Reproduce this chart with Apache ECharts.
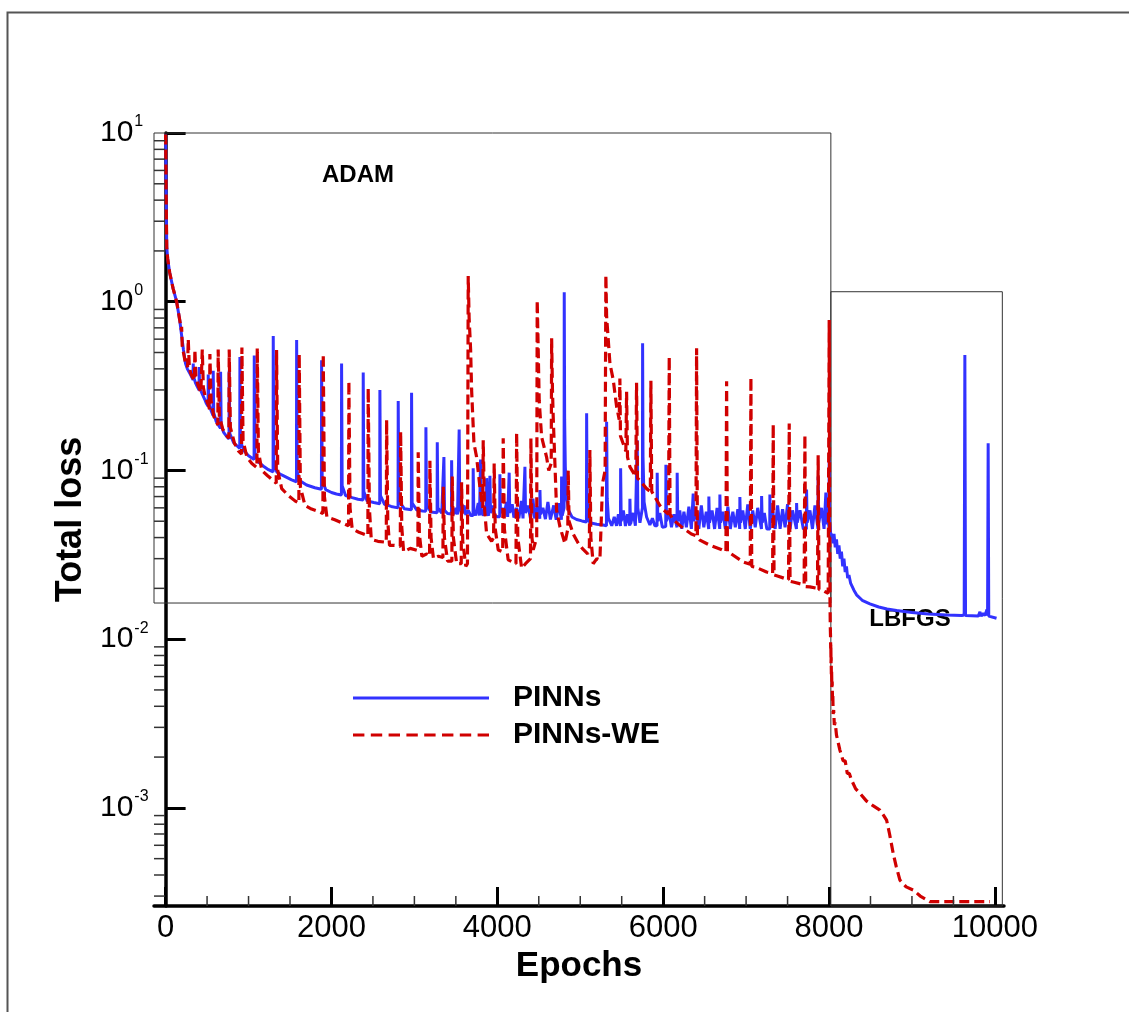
<!DOCTYPE html>
<html>
<head>
<meta charset="utf-8">
<script src="https://cdn.jsdelivr.net/npm/echarts@6/dist/echarts.min.js"></script>
<style>
html,body{margin:0;padding:0;background:#fff;}
#chart{width:1129px;height:1012px;}
</style>
</head>
<body>
<div id="chart"></div>
<script>
// ---------------- data ----------------
const seriesNames = ['PINNs', 'PINNs-WE'];

// PINNs (blue, solid): [epoch, total loss]
const pinns = [
[0,9.8],[4,6.0],[9,3.2],[14,2.1],[25,1.8],[50,1.48],[90,1.2],[133,1.0],[170,0.78],[195,0.62],[215,0.52],[240,0.43],
[262,0.40],[285,0.39],[300,0.37],[318,0.355],[331,0.345],[333,0.43],[338,0.36],[360,0.33],[380,0.315],[403,0.30],[405,0.41],[410,0.31],
[440,0.285],[470,0.265],[490,0.25],[512,0.24],[514,0.37],[520,0.25],[550,0.225],[572,0.212],[574,0.39],[580,0.22],[610,0.195],[640,0.185],
[661,0.178],[663,0.385],[670,0.185],[700,0.168],[740,0.158],[765,0.154],[767,0.39],[775,0.165],[820,0.146],[860,0.14],[894,0.135],[896,0.47],
[903,0.148],[950,0.13],[1000,0.122],[1067,0.116],[1069,0.48],[1076,0.128],[1120,0.112],[1180,0.106],[1240,0.101],[1296,0.098],[1298,0.626],
[1305,0.112],[1340,0.098],[1400,0.094],[1460,0.091],[1520,0.088],[1578,0.0857],[1580,0.593],[1587,0.098],[1620,0.087],[1700,0.082],[1800,0.079],
[1879,0.0773],[1881,0.45],[1888,0.088],[1930,0.077],[2000,0.074],[2060,0.0725],[2120,0.0715],[2122,0.43],[2129,0.081],[2170,0.071],[2250,0.069],
[2320,0.0675],[2381,0.0668],[2383,0.38],[2390,0.075],[2430,0.066],[2510,0.0645],[2582,0.0635],[2584,0.30],[2591,0.071],[2640,0.063],[2720,0.0612],
[2803,0.060],[2805,0.258],[2812,0.066],[2880,0.0592],[2964,0.0585],[2966,0.289],[2973,0.064],[3030,0.0582],[3100,0.0575],[3137,0.0572],[3139,0.18],
[3146,0.062],[3200,0.0567],[3274,0.0562],[3276,0.147],[3283,0.06],[3330,0.0558],[3354,0.0556],[3356,0.12],[3363,0.058],[3400,0.0555],[3447,0.0552],
[3449,0.115],[3456,0.058],[3480,0.055],[3500,0.060],[3520,0.0548],[3538,0.0548],[3540,0.175],[3547,0.060],[3570,0.055],[3600,0.062],[3620,0.0545],
[3650,0.058],[3680,0.054],[3707,0.054],[3709,0.103],[3716,0.058],[3740,0.054],[3770,0.064],[3785,0.054],[3796,0.055],[3798,0.116],[3805,0.057],
[3830,0.054],[3850,0.062],[3869,0.054],[3871,0.09],[3878,0.056],[3895,0.054],[3909,0.054],[3911,0.093],[3918,0.056],[3950,0.062],[3970,0.054],
[4000,0.0532],[4029,0.0532],[4031,0.095],[4038,0.056],[4060,0.060],[4080,0.053],[4110,0.065],[4125,0.053],[4141,0.053],[4143,0.097],[4150,0.056],
[4180,0.063],[4200,0.0525],[4230,0.060],[4260,0.052],[4290,0.066],[4310,0.052],[4331,0.052],[4333,0.105],[4340,0.056],[4370,0.062],[4400,0.052],
[4430,0.068],[4450,0.052],[4480,0.061],[4512,0.0518],[4514,0.0765],[4521,0.055],[4550,0.060],[4580,0.0515],[4610,0.065],[4640,0.0512],[4680,0.062],
[4710,0.051],[4740,0.064],[4773,0.051],[4775,0.092],[4782,0.054],[4800,0.053],[4805,0.06],[4807,1.137],[4812,0.2],[4820,0.105],[4835,0.07],[4860,0.058],
[4900,0.053],[4956,0.0512],[5020,0.0502],[5075,0.0495],[5077,0.218],[5083,0.07],[5095,0.052],[5116,0.049],[5200,0.048],[5277,0.0475],[5316,0.047],
[5318,0.194],[5325,0.068],[5340,0.052],[5380,0.047],[5410,0.053],[5438,0.047],[5460,0.055],[5485,0.0468],[5487,0.103],[5494,0.05],[5520,0.058],
[5545,0.0468],[5570,0.055],[5597,0.047],[5599,0.068],[5606,0.048],[5640,0.056],[5665,0.047],[5685,0.048],[5687,0.151],[5694,0.06],[5720,0.049],
[5750,0.06],[5752,0.567],[5757,0.12],[5770,0.065],[5800,0.053],[5840,0.0475],[5870,0.052],[5900,0.047],[5926,0.047],[5928,0.097],[5935,0.05],
[5960,0.056],[5990,0.046],[6031,0.0465],[6033,0.108],[6040,0.05],[6070,0.057],[6100,0.046],[6130,0.055],[6167,0.046],[6169,0.097],[6176,0.05],
[6200,0.058],[6225,0.045],[6250,0.057],[6280,0.046],[6310,0.061],[6340,0.045],[6360,0.046],[6362,0.073],[6369,0.05],[6400,0.058],[6430,0.045],
[6460,0.062],[6490,0.046],[6520,0.057],[6549,0.045],[6551,0.07],[6558,0.049],[6590,0.058],[6620,0.045],[6650,0.06],[6682,0.045],[6684,0.072],
[6691,0.049],[6720,0.057],[6750,0.045],[6780,0.061],[6810,0.045],[6840,0.057],[6870,0.046],[6900,0.059],[6923,0.045],[6925,0.0695],[6932,0.049],
[6960,0.058],[6990,0.045],[7020,0.063],[7050,0.045],[7080,0.058],[7110,0.046],[7140,0.06],[7185,0.045],[7187,0.0705],[7194,0.049],[7220,0.056],
[7250,0.045],[7285,0.045],[7287,0.072],[7294,0.049],[7320,0.058],[7350,0.045],[7380,0.062],[7410,0.045],[7440,0.059],[7470,0.046],[7500,0.063],
[7530,0.045],[7560,0.058],[7607,0.045],[7609,0.064],[7616,0.049],[7650,0.058],[7690,0.045],[7727,0.045],[7729,0.077],[7736,0.049],[7770,0.058],
[7800,0.045],[7830,0.062],[7867,0.045],[7869,0.092],[7876,0.049],[7910,0.06],[7940,0.045],[7960,0.045],[7962,0.074],[7968,0.048],[7985,0.052],
[8000,0.046],[8002,0.114],[8006,0.05],[8020,0.0424],
[8040,0.041],[8050,0.037],[8060,0.042],[8075,0.035],[8090,0.039],[8105,0.032],[8120,0.036],[8135,0.030],[8150,0.033],[8165,0.027],[8180,0.030],
[8195,0.025],[8210,0.027],[8225,0.023],[8240,0.024],[8260,0.0215],[8280,0.0212],[8300,0.0195],[8332,0.0183],[8400,0.017],[8493,0.0162],[8600,0.0155],
[8700,0.0151],[8815,0.0148],[9000,0.0144],[9200,0.0141],[9418,0.0139],[9600,0.0138],[9630,0.0139],[9638,0.483],[9646,0.0138],[9800,0.0137],
[9820,0.0145],[9835,0.0137],[9860,0.0142],[9880,0.0138],[9905,0.015],[9912,0.0138],[9919,0.145],[9926,0.0137],[10020,0.0133]
];

// PINNs-WE (red, dashed): [epoch, total loss]
const pinnsWE = [
[0,9.8],[4,6.0],[9,3.2],[14,2.1],[25,1.8],[50,1.48],[90,1.2],[133,1.0],[170,0.78],[190,0.68],[193,0.71],[200,0.55],[215,0.5],[240,0.43],[265,0.41],
[273,0.60],[285,0.42],[300,0.38],[320,0.36],[348,0.34],[353,0.52],[365,0.36],[390,0.32],[425,0.29],[442,0.52],[455,0.31],[480,0.27],[515,0.245],
[530,0.23],[534,0.49],[548,0.26],[580,0.21],[610,0.195],[630,0.186],[634,0.52],[648,0.21],[690,0.175],[740,0.16],[763,0.155],[767,0.52],[781,0.18],
[830,0.145],[880,0.13],[916,0.125],[920,0.535],[934,0.15],[980,0.12],[1040,0.11],[1101,0.104],[1105,0.53],[1119,0.13],[1160,0.1],[1230,0.093],
[1300,0.087],[1334,0.084],[1338,0.517],[1352,0.1],[1400,0.078],[1480,0.071],[1560,0.066],[1607,0.064],[1611,0.49],[1625,0.08],[1680,0.062],
[1760,0.059],[1850,0.057],[1897,0.0556],[1901,0.49],[1915,0.07],[1945,0.053],[2040,0.051],[2140,0.0486],[2206,0.047],[2210,0.338],[2224,0.06],
[2250,0.045],[2330,0.043],[2439,0.041],[2443,0.307],[2457,0.06],[2480,0.039],[2560,0.038],[2661,0.0375],[2665,0.199],[2679,0.05],[2700,0.036],
[2760,0.036],[2830,0.0355],[2834,0.17],[2848,0.046],[2870,0.033],[2950,0.0345],[3042,0.0335],[3046,0.128],[3060,0.042],[3090,0.031],[3150,0.032],
[3183,0.031],[3187,0.114],[3201,0.04],[3230,0.03],[3290,0.031],[3344,0.0305],[3348,0.08],[3362,0.04],[3400,0.029],[3452,0.029],[3456,0.092],
[3470,0.04],[3510,0.028],[3565,0.028],[3569,0.085],[3583,0.038],[3620,0.027],[3640,0.028],[3649,1.42],[3660,0.8],[3678,0.52],[3690,0.3],
[3718,0.145],[3750,0.12],[3790,0.08],[3810,0.067],[3825,0.06],[3830,0.151],[3845,0.06],[3871,0.042],[3931,0.038],[3955,0.04],[3962,0.11],
[3975,0.045],[4011,0.0338],[4065,0.033],[4071,0.155],[4085,0.045],[4131,0.0295],[4225,0.028],[4233,0.167],[4247,0.04],[4293,0.0263],[4340,0.028],
[4400,0.03],[4405,0.155],[4418,0.04],[4433,0.0338],[4475,0.04],[4481,1.02],[4493,0.52],[4505,0.26],[4534,0.158],[4594,0.12],[4620,0.1],[4650,0.11],
[4655,0.607],[4665,0.3],[4674,0.208],[4715,0.058],[4755,0.0464],[4815,0.0369],[4850,0.045],[4855,0.1],[4865,0.05],[4915,0.042],[4976,0.037],
[5036,0.034],[5090,0.032],[5110,0.035],[5116,0.132],[5128,0.04],[5156,0.028],[5200,0.03],[5237,0.0295],[5269,0.084],[5300,0.1],[5309,1.44],
[5318,0.815],[5358,0.43],[5398,0.344],[5438,0.24],[5470,0.2],[5478,0.35],[5485,0.16],[5498,0.158],[5550,0.13],[5559,0.293],[5570,0.12],[5599,0.105],
[5670,0.092],[5679,0.331],[5690,0.09],[5720,0.087],[5800,0.078],[5845,0.075],[5852,0.34],[5862,0.075],[5880,0.073],[5960,0.062],[6001,0.0585],
[6065,0.055],[6073,0.472],[6083,0.055],[6121,0.051],[6242,0.0454],[6340,0.042],[6395,0.041],[6403,0.53],[6413,0.04],[6443,0.0386],[6564,0.036],
[6700,0.034],[6757,0.033],[6765,0.338],[6775,0.033],[6805,0.0324],[6965,0.0287],[7050,0.0278],[7058,0.356],[7068,0.027],[7106,0.0268],[7247,0.025],
[7320,0.0245],[7327,0.188],[7337,0.024],[7387,0.0236],[7512,0.0225],[7520,0.19],[7530,0.022],[7568,0.0218],[7700,0.021],[7709,0.162],[7719,0.0205],
[7769,0.0204],[7861,0.02],[7869,0.123],[7879,0.0197],[7910,0.0196],[7990,0.0187],[7998,0.019],[8002,0.78],[8008,0.05],[8012,0.0164],
[8015,0.012],[8018,0.0105],[8020,0.0088],[8022,0.0094],[8024,0.0072],[8026,0.0078],[8028,0.0062],[8031,0.0066],[8034,0.0052],[8038,0.0056],
[8042,0.0043],[8046,0.0046],[8050,0.0036],[8056,0.0038],[8064,0.0031],[8075,0.0032],[8090,0.0027],[8110,0.0027],[8131,0.0022],[8150,0.0022],
[8170,0.0019],[8195,0.0019],[8220,0.0016],[8245,0.0016],[8272,0.00146],[8320,0.0013],[8372,0.00122],[8450,0.0011],[8530,0.00103],[8613,0.00097],
[8660,0.0009],[8694,0.000847],[8730,0.0007],[8774,0.000537],[8810,0.00045],[8855,0.000373],[8930,0.00034],[9015,0.000326],[9100,0.0003],
[9216,0.000278],[9940,0.000278]
];

// axis ticks
const xMajorTicks = [0, 2000, 4000, 6000, 8000, 10000];
const xMinorTicks = [500, 1000, 1500, 2500, 3000, 3500, 4500, 5000, 5500, 6500, 7000, 7500, 8500, 9000, 9500];
const yMinorTicks = [0.0003, 0.0004, 0.0005, 0.0006, 0.0007, 0.0008, 0.0009,
  0.002, 0.003, 0.004, 0.005, 0.006, 0.007, 0.008, 0.009,
  0.02, 0.03, 0.04, 0.05, 0.06, 0.07, 0.08, 0.09,
  0.2, 0.3, 0.4, 0.5, 0.6, 0.7, 0.8, 0.9,
  2, 3, 4, 5, 6, 7, 8, 9];
const X_MIN = -140, X_MAX = 10110, Y_MIN = 0.000262, Y_MAX = 10;

// phase boxes [x0, y0, x1, y1] in data units
const adamBox = [X_MIN, 10, 8022, 0.01637];
const lbfgsBox = [8022, 1.146, 10090, Y_MIN];

// ---------------- chart ----------------
const chart = echarts.init(document.getElementById('chart'), null, {renderer: 'canvas'});
const FONT = 'Liberation Sans, Arial, Helvetica, sans-serif';

// legend icons: solid bar and dashed bar (8 dashes)
const solidIcon = 'path://M0,0H136V3H0Z';
let dashPath = 'path://';
for (let k = 0; k < 8; k++) {
  const x0 = k * 17.8;
  dashPath += 'M' + x0 + ',0H' + (x0 + 11.4) + 'V3H' + x0 + 'Z';
}

function hTick(params, api) {
  const p = api.coord([api.value(0), api.value(1)]);
  return {type: 'line', shape: {x1: p[0], y1: p[1], x2: p[0] + 11, y2: p[1]},
          style: {stroke: '#333', lineWidth: 1.5}};
}
function vTick(params, api) {
  const p = api.coord([api.value(0), api.value(1)]);
  return {type: 'line', shape: {x1: p[0], y1: p[1], x2: p[0], y2: p[1] - 10},
          style: {stroke: '#333', lineWidth: 1.5}};
}

const option = {
  animation: false,
  backgroundColor: '#fff',
  grid: {left: 154, right: 125, top: 133, bottom: 106, containLabel: false},
  xAxis: {
    type: 'value', min: X_MIN, max: X_MAX,
    name: 'Epochs', nameLocation: 'middle', nameGap: 34,
    nameTextStyle: {fontFamily: FONT, fontWeight: 'bold', fontSize: 35, color: '#000'},
    axisLine: {lineStyle: {color: '#000', width: 3.5}},
    axisTick: {inside: true, length: 19, lineStyle: {color: '#000', width: 3}, customValues: xMajorTicks},
    axisLabel: {customValues: xMajorTicks, margin: 7, color: '#000',
      formatter: function (v) { return String(v); },
      fontFamily: FONT, fontSize: 31},
    splitLine: {show: false}
  },
  yAxis: {
    type: 'log', logBase: 10, min: Y_MIN, max: Y_MAX,
    name: 'Total loss', nameLocation: 'middle', nameGap: 54, nameRotate: 90,
    nameTextStyle: {fontFamily: FONT, fontWeight: 'bold', fontSize: 36, color: '#000'},
    axisLine: {lineStyle: {color: '#000', width: 3.5}},
    axisTick: {inside: true, length: 20, lineStyle: {color: '#000', width: 3}},
    axisLabel: {
      showMinLabel: false, align: 'left', margin: 54, color: '#000',
      formatter: function (v) { const e = Math.round(Math.log10(v)); return '{b|10}{s|' + e + '}'; },
      rich: {
        b: {fontFamily: FONT, fontSize: 30, lineHeight: 38, color: '#000'},
        s: {fontFamily: FONT, fontSize: 16, verticalAlign: 'top', color: '#000', padding: [0, 0, 0, 1]}
      }
    },
    splitLine: {show: false}
  },
  legend: {
    orient: 'vertical', left: 348, top: 678, itemWidth: 136, itemHeight: 3, itemGap: 7,
    data: [{name: 'PINNs', icon: solidIcon}, {name: 'PINNs-WE', icon: dashPath}],
    textStyle: {fontFamily: FONT, fontWeight: 'bold', fontSize: 30, color: '#000', padding: [0, 0, 0, 19]}
  },
  series: [
    {
      name: seriesNames[0], type: 'line', data: pinns, symbol: 'none', showSymbol: false, sampling: 'none',
      lineStyle: {color: '#3232ff', width: 3}, itemStyle: {color: '#3232ff'}, z: 3,
      markArea: {
        silent: true,
        itemStyle: {color: 'rgba(0,0,0,0)', borderColor: '#333', borderWidth: 1},
        data: [
          [{coord: [adamBox[0], adamBox[1]]}, {coord: [adamBox[2], adamBox[3]]}],
          [{coord: [lbfgsBox[0], lbfgsBox[1]]}, {coord: [lbfgsBox[2], lbfgsBox[3]]}]
        ]
      }
    },
    {
      name: seriesNames[1], type: 'line', data: pinnsWE, symbol: 'none', showSymbol: false, sampling: 'none',
      lineStyle: {color: '#d00000', width: 3.2, type: [10, 5]}, itemStyle: {color: '#d00000'}, z: 4
    },
    {type: 'custom', name: 'yminor', silent: true, renderItem: hTick, z: 5,
     data: yMinorTicks.map(v => [X_MIN, v])},
    {type: 'custom', name: 'xminor', silent: true, renderItem: vTick, z: 5,
     data: xMinorTicks.map(v => [v, Y_MIN])}
  ],
  graphic: [
    {type: 'polyline', silent: true, shape: {points: [[7.5, 1012], [7.5, 12.5], [1129, 12.5]]},
     style: {stroke: '#555', lineWidth: 2, fill: null}},
    {type: 'text', x: 358, y: 175, silent: true,
     style: {text: 'ADAM', font: 'bold 24px ' + FONT, fill: '#000', align: 'center', verticalAlign: 'middle'}},
    {type: 'text', x: 910, y: 619, silent: true,
     style: {text: 'LBFGS', font: 'bold 24px ' + FONT, fill: '#000', align: 'center', verticalAlign: 'middle'}}
  ]
};
chart.setOption(option);
</script>
</body>
</html>
